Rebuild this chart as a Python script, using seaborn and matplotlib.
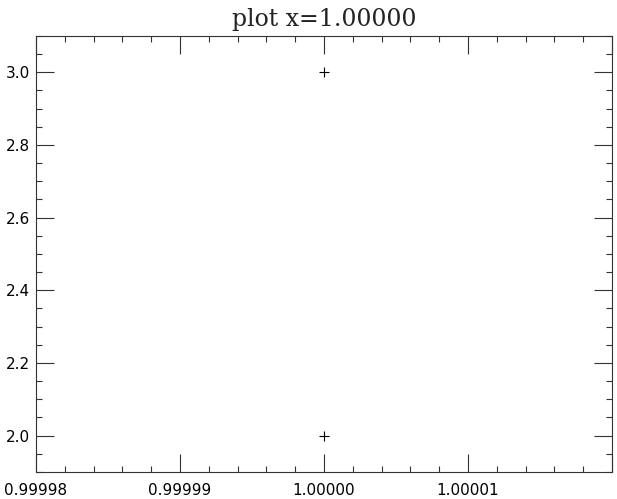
import matplotlib
matplotlib.use("Agg")
import matplotlib.pyplot as plt
from matplotlib.ticker import MultipleLocator, FuncFormatter
import seaborn as sns
import pandas as pd

# data
x_vals = [1.0, 1.0]
y_vals = [2.0, 3.0]
title_text = "plot x=1.00000"

df = pd.DataFrame({"x": x_vals, "y": y_vals})

sns.set_style("ticks")
plt.rcParams["font.family"] = ["DejaVu Sans"]

fig = plt.figure(figsize=(6.17, 4.99), dpi=100)
ax = fig.add_axes([36 / 617, 27 / 499, 576 / 617, 436 / 499])

sns.scatterplot(data=df, x="x", y="y", marker="+", color="black",
                s=45, linewidth=0.8, ax=ax, legend=False)

ax.set_xlim(0.99998, 1.00002)
ax.set_ylim(1.9, 3.1)
ax.xaxis.set_major_locator(MultipleLocator(0.00001))
ax.xaxis.set_minor_locator(MultipleLocator(0.000002))
ax.yaxis.set_major_locator(MultipleLocator(0.2))
ax.yaxis.set_minor_locator(MultipleLocator(0.05))
# the last x label (1.00002) is not drawn in the original
ax.xaxis.set_major_formatter(FuncFormatter(lambda v, p: "" if v > 1.000015 else f"{v:.5f}"))
ax.yaxis.set_major_formatter(FuncFormatter(lambda v, p: f"{v:.1f}"))

ax.tick_params(which="both", direction="in", top=True, right=True,
               color="#333333", width=0.8, labelsize=11, labelcolor="black")
ax.tick_params(which="major", length=13)
ax.tick_params(which="minor", length=4.5)
ax.tick_params(axis="x", which="major", pad=8)
ax.tick_params(axis="y", which="major", pad=4)
for sp in ax.spines.values():
    sp.set_visible(True)
    sp.set_color("#333333")
    sp.set_linewidth(0.8)

ax.set_xlabel("")
ax.set_ylabel("")
ax.set_title(title_text, family="DejaVu Serif", fontsize=17, pad=7, color="#222222")

fig.savefig("out.png", dpi=100)
